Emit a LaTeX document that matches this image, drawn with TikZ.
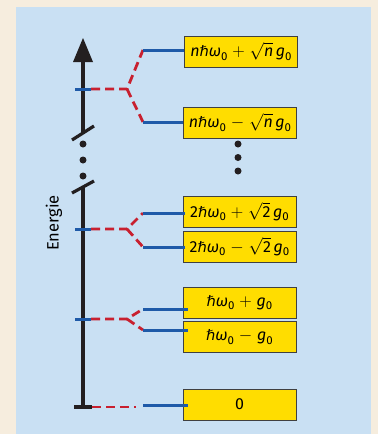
\documentclass[tikz,border=0pt]{standalone}
\usepackage{fontspec}
\setmainfont{Fira Sans}
\newfontfamily\hbarfont{DejaVu Sans}
\definecolor{beige}{RGB}{246,237,222}
\definecolor{panel}{RGB}{201,224,243}
\definecolor{boxyellow}{RGB}{255,221,0}
\definecolor{levelblue}{RGB}{30,90,168}
\definecolor{splitred}{RGB}{200,32,47}
\definecolor{axisblack}{RGB}{35,31,32}
\newcommand\myhbar{{\hbarfont\itshape\fontsize{14.5}{16}\selectfont ℏ}}
\newcommand\myzero{\raisebox{-0.4ex}{\upshape\fontsize{11.5}{12}\selectfont 0}}
\newcommand\myplus{$\;+\;$}
\newcommand\myminus{$\;-\;$}
\tikzset{
  statebox/.style={fill=boxyellow, draw=black!75, line width=0.9pt, minimum width=113pt, minimum height=31pt, inner sep=0pt, font=\fontsize{16}{18}\selectfont\itshape},
  levelline/.style={draw=levelblue, line width=3pt},
  splitline/.style={draw=splitred, line width=2.8pt, dash pattern=on 9pt off 5pt},
  axisline/.style={draw=axisblack, line width=3.2pt},
  dotmark/.style={circle, fill=axisblack, inner sep=0pt, minimum size=7pt},
}
\begin{document}
\begin{tikzpicture}[x=1pt,y=-1pt]
\useasboundingbox (0,0) rectangle (378,434);
\fill[beige] (0,0) rectangle (378,434);
\fill[panel] (16,7) rectangle (371,434);

% axis
\fill[axisblack] (73,62) -- (93,62) -- (83,38) -- cycle;
\draw[axisline] (83,61) -- (83,133);
\draw[axisline] (72,140) -- (94,126);
\draw[axisline] (72,193) -- (94,181);
\draw[axisline] (83,187) -- (83,407);
\draw[axisline] (74,407) -- (92,407);
\node[dotmark] (dl1) at (83,144) {};
\node[dotmark] (dl2) at (83,160) {};
\node[dotmark] (dl3) at (83,176) {};
\node[dotmark] (dr1) at (238,144) {};
\node[dotmark] (dr2) at (238,157.5) {};
\node[dotmark] (dr3) at (238,171) {};

\node[rotate=90, font=\fontsize{16.5}{19}\selectfont] (energie) at (54,223) {Energie};

% boxes
\node[statebox] (bnp) at (241,51.5) {n\myhbar ω\myzero\myplus$\sqrt{\mbox{\itshape n}}$\,g\myzero};
\node[statebox] (bnm) at (240,122.5) {n\myhbar ω\myzero\myminus$\sqrt{\mbox{\itshape n}}$\,g\myzero};
\node[statebox] (b2p) at (239.5,211.5) {{\upshape 2}\myhbar ω\myzero\myplus$\sqrt{\mbox{\upshape 2}}$\,g\myzero};
\node[statebox] (b2m) at (239.5,246.5) {{\upshape 2}\myhbar ω\myzero\myminus$\sqrt{\mbox{\upshape 2}}$\,g\myzero};
\node[statebox] (b1p) at (239.5,302.5) {\myhbar ω\myzero\myplus g\myzero};
\node[statebox] (b1m) at (239.5,337) {\myhbar ω\myzero\myminus g\myzero};
\node[statebox] (b0) at (239.5,404.5) {\upshape 0};

% level n
\coordinate (tn) at (91,89);
\coordinate (sn) at (127,89);
\coordinate (np) at (143,50);
\coordinate (nm) at (143,122);
\draw[levelline] (75,89) -- (tn);
\draw[splitline] (tn) -- (sn) -- (np);
\draw[splitline] (sn) -- (nm);
\draw[levelline] (np) -- (np -| bnp.west);
\draw[levelline] (nm) -- (nm -| bnm.west);

% level 2
\coordinate (t2) at (91,229);
\coordinate (s2) at (127,229);
\coordinate (p2) at (143,213);
\coordinate (m2) at (143,247);
\draw[levelline] (75,229) -- (t2);
\draw[splitline] (t2) -- (s2) -- (p2);
\draw[splitline] (s2) -- (m2);
\draw[levelline] (p2) -- ([xshift=2pt]p2 -| b2p.west);
\draw[levelline] (m2) -- ([xshift=2pt]m2 -| b2m.west);

% level 1
\coordinate (t1) at (91,319);
\coordinate (s1) at (127,319);
\coordinate (p1) at (143,309);
\coordinate (m1) at (143,330);
\draw[levelline] (75,319) -- (t1);
\draw[splitline] (t1) -- (s1) -- (p1);
\draw[splitline] (s1) -- (m1);
\draw[levelline] (p1) -- ([xshift=5pt]p1 -| b1p.west);
\draw[levelline] (m1) -- ([xshift=5pt]m1 -| b1m.west);

% level 0
\coordinate (t0) at (92,407);
\coordinate (e0) at (136,407);
\coordinate (p0) at (143,405);
\draw[splitline] (t0) -- (e0);
\draw[levelline] (p0) -- ([xshift=5pt]p0 -| b0.west);
\end{tikzpicture}
\end{document}
